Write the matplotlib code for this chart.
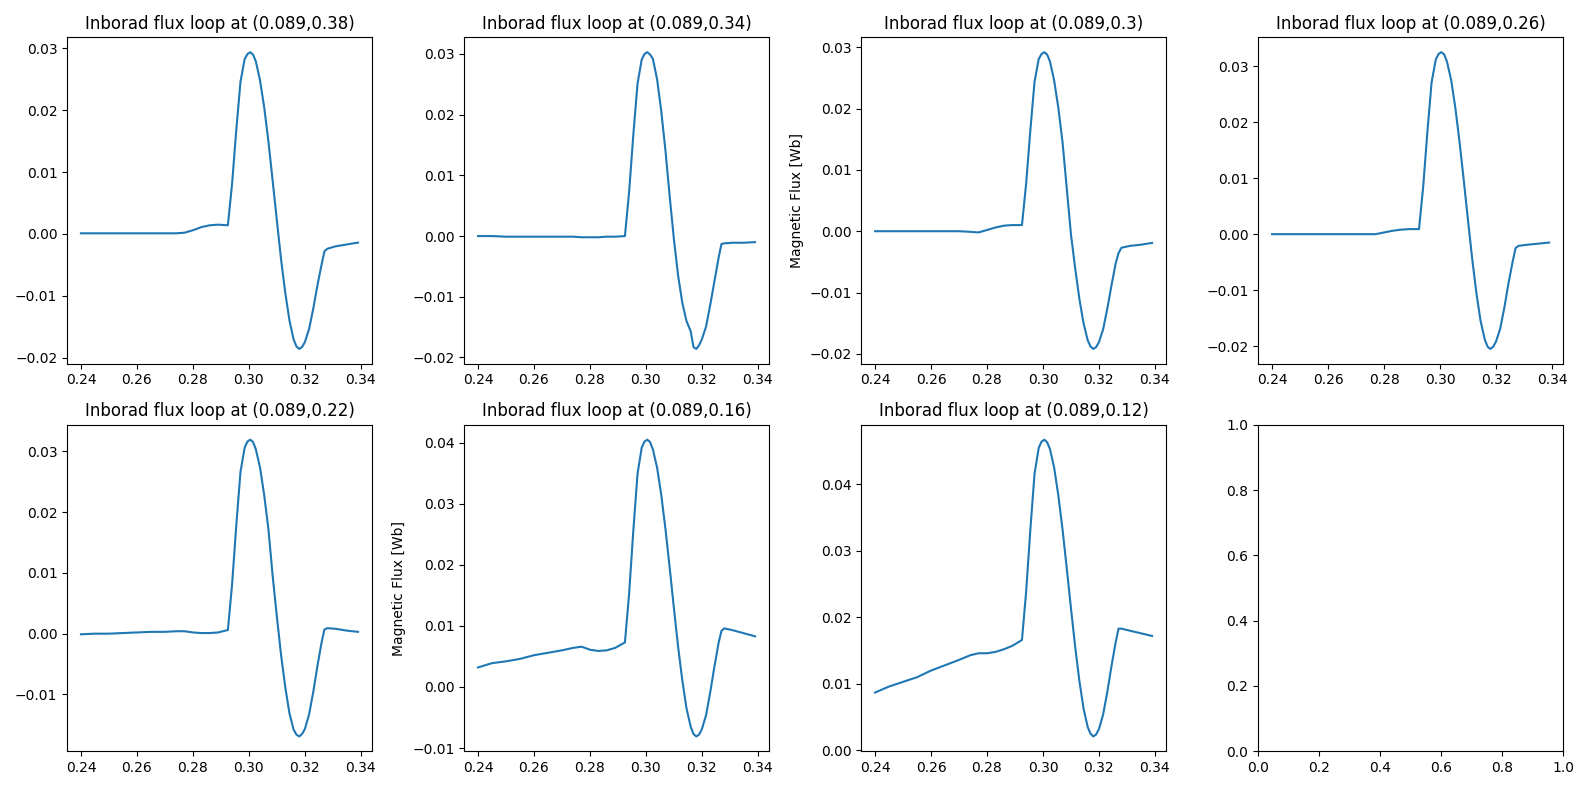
import numpy as np
import matplotlib
matplotlib.use("Agg")
import matplotlib.pyplot as plt

# time axis (s), sampled more densely around the pulse
t = np.array([0.240, 0.245, 0.250, 0.255, 0.260, 0.265, 0.270, 0.274, 0.277, 0.280,
              0.283, 0.286, 0.289, 0.2925, 0.294, 0.2955, 0.297, 0.2985, 0.2995, 0.3005,
              0.3015, 0.3025, 0.304, 0.3055, 0.307, 0.3085, 0.310, 0.3115, 0.313, 0.3145,
              0.316, 0.317, 0.318, 0.319, 0.320, 0.3215, 0.323, 0.3245, 0.326, 0.327,
              0.328, 0.331, 0.335, 0.339])

# loop positions (r, z)
loops = ["(0.089,0.38)", "(0.089,0.34)", "(0.089,0.3)", "(0.089,0.26)",
         "(0.089,0.22)", "(0.089,0.16)", "(0.089,0.12)"]

flux_038 = [0.0001, 0.0001, 0.0001, 0.0001, 0.0001, 0.0001, 0.0001, 0.0001, 0.0002, 0.0006,
            0.0011, 0.0014, 0.0015, 0.0014, 0.0081, 0.0168, 0.0246, 0.0283, 0.0291, 0.0294,
            0.0290, 0.0279, 0.0248, 0.0204, 0.0149, 0.0086, 0.0022, -0.0041, -0.0095, -0.0140,
            -0.0171, -0.0182, -0.0186, -0.0183, -0.0175, -0.0154, -0.0121, -0.0083, -0.0049, -0.0028,
            -0.0024, -0.0020, -0.0017, -0.0014]
flux_034 = [0.0000, 0.0000, -0.0001, -0.0001, -0.0001, -0.0001, -0.0001, -0.0001, -0.0002, -0.0002,
            -0.0002, -0.0001, -0.0001, 0.0000, 0.0073, 0.0167, 0.0251, 0.0291, 0.0300, 0.0303,
            0.0299, 0.0292, 0.0258, 0.0205, 0.0140, 0.0065, -0.0005, -0.0065, -0.0110, -0.0140,
            -0.0157, -0.0183, -0.0186, -0.0180, -0.0170, -0.0149, -0.0113, -0.0074, -0.0035, -0.0013,
            -0.0012, -0.0011, -0.0011, -0.0010]
flux_030 = [0.0000, 0.0000, 0.0000, 0.0000, 0.0000, 0.0000, 0.0000, -0.0001, -0.0002, 0.0002,
            0.0006, 0.0009, 0.0010, 0.0010, 0.0078, 0.0165, 0.0244, 0.0281, 0.0289, 0.0292,
            0.0288, 0.0277, 0.0246, 0.0201, 0.0145, 0.0070, -0.0005, -0.0060, -0.0110, -0.0150,
            -0.0178, -0.0188, -0.0192, -0.0189, -0.0181, -0.0160, -0.0126, -0.0088, -0.0052, -0.0036,
            -0.0027, -0.0024, -0.0022, -0.0019]
flux_026 = [0.0000, 0.0000, 0.0000, 0.0000, 0.0000, 0.0000, 0.0000, 0.0000, 0.0000, 0.0003,
            0.0006, 0.0008, 0.0009, 0.0009, 0.0085, 0.0183, 0.0271, 0.0312, 0.0322, 0.0325,
            0.0321, 0.0308, 0.0275, 0.0225, 0.0164, 0.0096, 0.0025, -0.0044, -0.0105, -0.0155,
            -0.0188, -0.0201, -0.0205, -0.0201, -0.0192, -0.0169, -0.0131, -0.0087, -0.0048, -0.0025,
            -0.0021, -0.0019, -0.0017, -0.0015]
flux_022 = [-0.0001, 0.0000, 0.0000, 0.0001, 0.0002, 0.0003, 0.0003, 0.0004, 0.0004, 0.0002,
            0.0001, 0.0001, 0.0002, 0.0006, 0.0081, 0.0178, 0.0266, 0.0306, 0.0316, 0.0319,
            0.0315, 0.0303, 0.0273, 0.0227, 0.0171, 0.0095, 0.0028, -0.0035, -0.0088, -0.0131,
            -0.0158, -0.0166, -0.0169, -0.0165, -0.0157, -0.0133, -0.0096, -0.0053, -0.0014, 0.0007,
            0.0009, 0.0008, 0.0005, 0.0003]
flux_016 = [0.0032, 0.0039, 0.0042, 0.0046, 0.0052, 0.0056, 0.0060, 0.0064, 0.0066, 0.0061,
            0.0059, 0.0060, 0.0064, 0.0073, 0.0153, 0.0256, 0.0349, 0.0392, 0.0402, 0.0405,
            0.0401, 0.0389, 0.0359, 0.0314, 0.0258, 0.0195, 0.0129, 0.0066, 0.0011, -0.0035,
            -0.0065, -0.0077, -0.0081, -0.0078, -0.0069, -0.0046, -0.0008, 0.0034, 0.0073, 0.0092,
            0.0096, 0.0093, 0.0088, 0.0083]
flux_012 = [0.0087, 0.0096, 0.0103, 0.0110, 0.0120, 0.0128, 0.0136, 0.0143, 0.0146, 0.0146,
            0.0148, 0.0152, 0.0157, 0.0166, 0.0239, 0.0332, 0.0416, 0.0455, 0.0464, 0.0467,
            0.0463, 0.0453, 0.0425, 0.0383, 0.0332, 0.0274, 0.0214, 0.0156, 0.0105, 0.0063,
            0.0035, 0.0025, 0.0021, 0.0024, 0.0032, 0.0054, 0.0088, 0.0127, 0.0163, 0.0183,
            0.0183, 0.0180, 0.0176, 0.0172]

series = [flux_038, flux_034, flux_030, flux_026, flux_022, flux_016, flux_012]

fig, axes = plt.subplots(2, 4, figsize=(15.89, 7.9), dpi=100)
axes = axes.flatten()

for i, (name, y) in enumerate(zip(loops, series)):
    ax = axes[i]
    ax.plot(t, y)
    ax.set_title("Inborad flux loop at " + name)
    ax.set_xticks([0.24, 0.26, 0.28, 0.30, 0.32, 0.34])

axes[2].set_ylabel("Magnetic Flux [Wb]")
axes[5].set_ylabel("Magnetic Flux [Wb]")

plt.tight_layout()
plt.savefig("out.png")
